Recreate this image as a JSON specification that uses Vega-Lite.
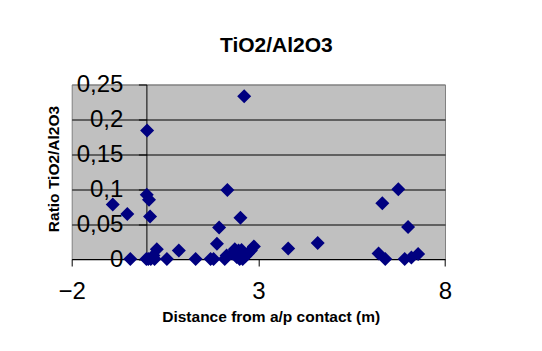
{
  "$schema": "https://vega.github.io/schema/vega-lite/v6.json",
  "width": 373.3,
  "height": 174.5,
  "autosize": {"type": "none"},
  "padding": {"left": 71.7, "top": 84.5, "right": 97, "bottom": 92},
  "background": "white",
  "title": {
    "text": "TiO2/Al2O3",
    "font": "Liberation Sans",
    "fontSize": 21,
    "fontWeight": "bold",
    "color": "black",
    "anchor": "middle",
    "frame": "group",
    "dx": 18,
    "baseline": "alphabetic",
    "offset": 0
  },
  "data": {
    "values": [
      {"distance": -0.9, "ratio": 0.078},
      {"distance": -0.51, "ratio": 0.0645},
      {"distance": -0.43, "ratio": 0},
      {"distance": 0.02, "ratio": 0.184},
      {"distance": 0.01, "ratio": 0.092},
      {"distance": 0.07, "ratio": 0.085},
      {"distance": 0.1, "ratio": 0.061},
      {"distance": 0.0, "ratio": 0},
      {"distance": 0.05, "ratio": 0},
      {"distance": 0.12, "ratio": 0},
      {"distance": 0.19, "ratio": 0.005},
      {"distance": 0.28, "ratio": 0.014},
      {"distance": 0.22, "ratio": 0},
      {"distance": 0.55, "ratio": 0},
      {"distance": 0.87, "ratio": 0.012},
      {"distance": 1.32, "ratio": 0},
      {"distance": 1.72, "ratio": 0},
      {"distance": 1.8, "ratio": 0},
      {"distance": 1.89, "ratio": 0.022},
      {"distance": 1.95, "ratio": 0.045},
      {"distance": 2.1, "ratio": 0},
      {"distance": 2.17, "ratio": 0.099},
      {"distance": 2.15, "ratio": 0.005},
      {"distance": 2.3, "ratio": 0.008},
      {"distance": 2.37, "ratio": 0.014},
      {"distance": 2.42, "ratio": 0.003},
      {"distance": 2.47, "ratio": 0.012},
      {"distance": 2.52, "ratio": 0.059},
      {"distance": 2.55, "ratio": 0.013},
      {"distance": 2.5, "ratio": 0},
      {"distance": 2.58, "ratio": 0},
      {"distance": 2.62, "ratio": 0.233},
      {"distance": 2.65, "ratio": 0.004},
      {"distance": 2.72, "ratio": 0.008},
      {"distance": 2.8, "ratio": 0.012},
      {"distance": 2.88, "ratio": 0.018},
      {"distance": 3.8, "ratio": 0.015},
      {"distance": 4.59, "ratio": 0.023},
      {"distance": 6.22, "ratio": 0.008},
      {"distance": 6.4, "ratio": 0},
      {"distance": 6.32, "ratio": 0.08},
      {"distance": 6.75, "ratio": 0.1},
      {"distance": 7.01, "ratio": 0.046},
      {"distance": 6.92, "ratio": 0},
      {"distance": 7.1, "ratio": 0.002},
      {"distance": 7.28, "ratio": 0.007}
    ]
  },
  "mark": {"type": "point", "shape": "diamond", "filled": true, "size": 196, "color": "#000080", "opacity": 1},
  "encoding": {
    "x": {
      "field": "distance",
      "type": "quantitative",
      "scale": {"domain": [-2, 8], "nice": false, "zero": false},
      "axis": {
        "title": "Distance from a/p contact (m)",
        "values": [-2, 3, 8],
        "grid": false,
        "domainColor": "black",
        "domainWidth": 1,
        "tickColor": "black",
        "tickSize": 7,
        "labelFont": "Liberation Sans",
        "labelFontSize": 24,
        "labelColor": "black",
        "labelPadding": 13,
        "labelFlush": false,
        "labelOverlap": false,
        "titleFont": "Liberation Sans",
        "titleFontSize": 15.5,
        "titleFontWeight": "bold",
        "titleColor": "black",
        "titleX": 199,
        "titleY": 62.7,
        "titleBaseline": "alphabetic",
        "titleAlign": "center"
      }
    },
    "y": {
      "field": "ratio",
      "type": "quantitative",
      "scale": {"domain": [0, 0.25], "nice": false, "zero": true},
      "axis": {
        "title": "Ratio TiO2/Al2O3",
        "values": [0, 0.05, 0.1, 0.15, 0.2, 0.25],
        "offset": -74.7,
        "domainColor": "black",
        "domainWidth": 1,
        "tickColor": "black",
        "tickSize": 8,
        "labelFont": "Liberation Sans",
        "labelFontSize": 24,
        "labelColor": "black",
        "labelPadding": 15.5,
        "labelFlush": false,
        "labelOverlap": false,
        "labelExpr": "replace(toString(datum.value), '.', ',')",
        "grid": true,
        "gridColor": {"condition": {"test": "datum.value >= 0.24 || datum.value < 0.01", "value": "#808080"}, "value": "black"},
        "gridWidth": 1,
        "gridOpacity": 1,
        "titleFont": "Liberation Sans",
        "titleFontSize": 15.5,
        "titleFontWeight": "bold",
        "titleColor": "black",
        "titleAngle": -90,
        "titleX": -92.7,
        "titleY": 84,
        "titleBaseline": "middle",
        "titleAlign": "center"
      }
    }
  },
  "config": {
    "view": {"fill": "#C0C0C0", "stroke": "#808080", "strokeWidth": 1}
  }
}
